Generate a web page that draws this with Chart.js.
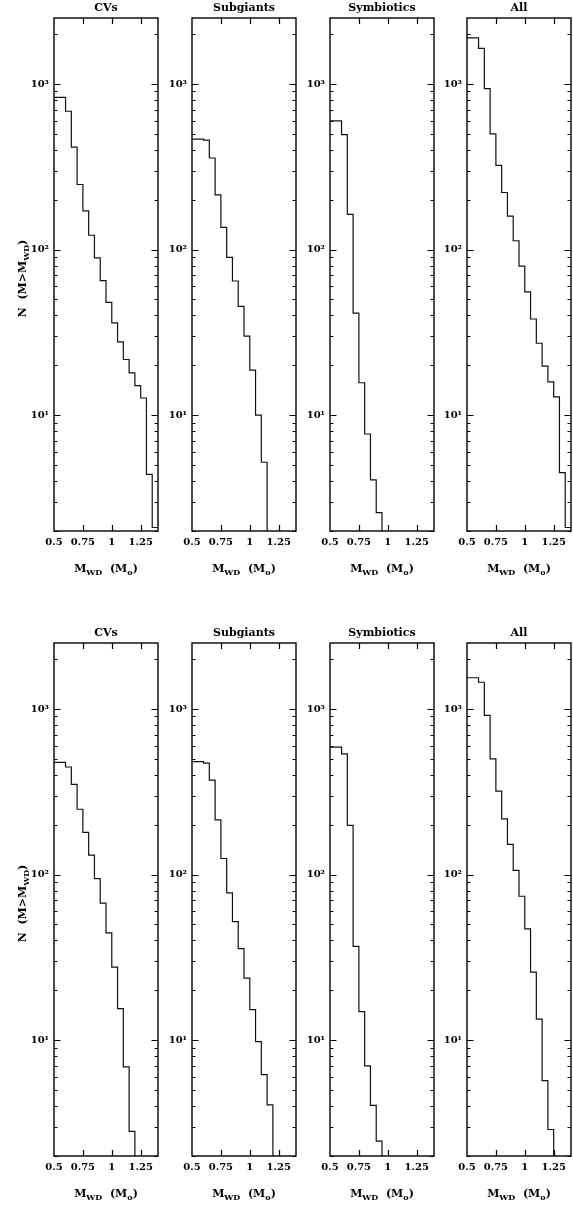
<!DOCTYPE html>
<html>
<head>
<meta charset="utf-8">
<script src="https://cdn.jsdelivr.net/npm/chart.js@4.4.1/dist/chart.umd.min.js"></script>
<style>
  html, body { margin: 0; padding: 0; background: #fff; overflow: hidden; width: 573px; height: 1205px; }
  canvas { position: absolute; }
</style>
</head>
<body>
<script>
// Left edges of the mass bins (M_sun); the final entry closes the last bin
const massEdges = [0.5, 0.6, 0.65, 0.7, 0.75, 0.8, 0.85, 0.9, 0.95, 1.0, 1.05, 1.1, 1.15, 1.2, 1.25, 1.3, 1.35, 1.4];

const panelTitles = ['CVs', 'Subgiants', 'Symbiotics', 'All'];

// Cumulative counts N(M > M_WD) per bin, upper set of panels
const cvsUpper        = [830, 684, 415, 247, 171, 122, 89, 65, 48, 36.1, 27.7, 21.7, 18.0, 15.1, 12.7, 4.4, 2.1];
const subgiantsUpper  = [464, 458, 357, 214, 136, 89.7, 64.6, 45.4, 30, 18.7, 10.0, 5.2, 1];
const symbioticsUpper = [599, 494, 163, 41.3, 15.7, 7.7, 4.07, 2.58, 1];
const allUpper        = [1896, 1639, 936, 499, 322, 221, 159, 113, 79.4, 55.6, 38.1, 27.2, 19.8, 15.9, 12.9, 4.5, 2.1];

// Cumulative counts N(M > M_WD) per bin, lower set of panels
const cvsLower        = [476, 446, 350, 248, 180, 131, 94.5, 67.3, 44.5, 27.6, 15.5, 6.9, 2.82, 1];
const subgiantsLower  = [480, 471, 372, 214, 125, 77.6, 52, 35.7, 23.7, 15.3, 9.8, 6.2, 4.07, 1];
const symbioticsLower = [588, 535, 198, 36.9, 14.9, 7.0, 4.04, 2.46, 1];
const allLower        = [1542, 1449, 915, 499, 319, 217, 152, 106, 74, 47, 25.8, 13.4, 5.7, 2.89, 1];

// Axis ticks
const xTickValues = [0.5, 0.75, 1, 1.25];
const xTickLabels = ['0.5', '0.75', '1', '1.25'];
const yTickValues = [10, 100, 1000];
const yTickLabels = ['10\u00B9', '10\u00B2', '10\u00B3'];
const yMinorValues = [2, 3, 4, 5, 6, 7, 8, 9, 20, 30, 40, 50, 60, 70, 80, 90,
                      200, 300, 400, 500, 600, 700, 800, 900, 2000];

// Page layout
const PANEL_LEFT = [54, 192, 330, 467];
const ROW_TOP = [18, 643];
const PANEL_W = 104, PANEL_H = 513;
const ML = 52, MR = 2, MT = 18, MB = 60;

const FONT = '"DejaVu Serif", serif';
Chart.defaults.font.family = FONT;
Chart.defaults.color = '#000';

function stepPoints(values) {
  const pts = values.map((v, i) => ({ x: massEdges[i], y: v }));
  pts.push({ x: massEdges[values.length], y: values[values.length - 1] });
  return pts;
}

// Draws text made of normal and subscript pieces, centred on (cx, cy)
function drawPieces(ctx, pieces, cx, cy) {
  const main = 'bold 11px ' + FONT, sub = 'bold 8px ' + FONT;
  let total = 0;
  pieces.forEach(([t, s]) => { ctx.font = s ? sub : main; total += ctx.measureText(t).width; });
  let x = cx - total / 2;
  ctx.textAlign = 'left';
  ctx.textBaseline = 'alphabetic';
  pieces.forEach(([t, s]) => {
    ctx.font = s ? sub : main;
    ctx.fillText(t, x, cy + 4 + (s ? 3 : 0));
    x += ctx.measureText(t).width;
  });
}

const panelDecor = {
  id: 'panelDecor',
  afterDatasetsDraw(chart, args, opts) {
    const { ctx, chartArea: a, scales: { x, y } } = chart;
    ctx.save();
    ctx.strokeStyle = '#000';
    ctx.lineWidth = 1.4;
    ctx.strokeRect(a.left, a.top, a.width, a.height);

    ctx.lineWidth = 1.2;
    ctx.beginPath();
    const yTick = (v, len) => {
      const py = Math.round(y.getPixelForValue(v)) + 0.5;
      ctx.moveTo(a.left, py); ctx.lineTo(a.left + len, py);
      ctx.moveTo(a.right, py); ctx.lineTo(a.right - len, py);
    };
    yMinorValues.forEach(v => yTick(v, 3.5));
    yTickValues.forEach(v => yTick(v, 6.5));
    xTickValues.slice(1).forEach(v => {
      const px = Math.round(x.getPixelForValue(v)) + 0.5;
      ctx.moveTo(px, a.top); ctx.lineTo(px, a.top + 6);
      ctx.moveTo(px, a.bottom); ctx.lineTo(px, a.bottom - 6);
    });
    ctx.stroke();

    ctx.fillStyle = '#000';
    ctx.font = 'bold 11px ' + FONT;
    ctx.textAlign = 'center';
    ctx.textBaseline = 'middle';
    ctx.fillText(opts.title, (a.left + a.right) / 2, a.top - 10);

    drawPieces(ctx, [['M', 0], ['WD', 1], ['  (M', 0], ['o', 1], [')', 0]],
               (a.left + a.right) / 2, a.bottom + 37);

    if (opts.yTitle) {
      ctx.translate(20, (a.top + a.bottom) / 2 + 4);
      ctx.rotate(-Math.PI / 2);
      drawPieces(ctx, [['N  (M>M', 0], ['WD', 1], [')', 0]], 0, 0);
    }
    ctx.restore();
  }
};

function makePanel(row, col, values) {
  const canvas = document.createElement('canvas');
  canvas.width = ML + PANEL_W + MR;
  canvas.height = MT + PANEL_H + MB;
  canvas.style.left = (PANEL_LEFT[col] - ML) + 'px';
  canvas.style.top = (ROW_TOP[row] - MT) + 'px';
  document.body.appendChild(canvas);

  new Chart(canvas, {
    type: 'line',
    data: {
      datasets: [{
        data: stepPoints(values),
        stepped: 'before',
        borderColor: '#111',
        borderWidth: 1.2,
        pointRadius: 0,
        fill: false
      }]
    },
    options: {
      responsive: false,
      animation: false,
      devicePixelRatio: 1,
      layout: { padding: { left: 0, top: MT, right: MR, bottom: 0 } },
      plugins: {
        legend: { display: false },
        tooltip: { enabled: false },
        title: { display: false },
        panelDecor: { title: panelTitles[col], yTitle: col === 0 }
      },
      scales: {
        x: {
          type: 'linear', min: 0.5, max: 1.4,
          grid: { display: false, drawTicks: false },
          border: { display: false },
          afterBuildTicks: s => { s.ticks = xTickValues.map(v => ({ value: v })); },
          afterFit: s => { s.height = MB; },
          ticks: {
            autoSkip: false, maxRotation: 0, padding: 5,
            font: { size: 10, weight: 'bold' },
            callback: (v, i) => xTickLabels[i]
          }
        },
        y: {
          type: 'logarithmic', min: 2, max: 2500,
          grid: { display: false, drawTicks: false },
          border: { display: false },
          afterBuildTicks: s => { s.ticks = yTickValues.map(v => ({ value: v })); },
          afterFit: s => { s.width = ML; },
          ticks: {
            autoSkip: false, padding: 5,
            font: { size: 10, weight: 'bold' },
            callback: (v, i) => yTickLabels[i]
          }
        }
      }
    },
    plugins: [panelDecor]
  });
}

[cvsUpper, subgiantsUpper, symbioticsUpper, allUpper].forEach((v, c) => makePanel(0, c, v));
[cvsLower, subgiantsLower, symbioticsLower, allLower].forEach((v, c) => makePanel(1, c, v));
</script>
</body>
</html>
